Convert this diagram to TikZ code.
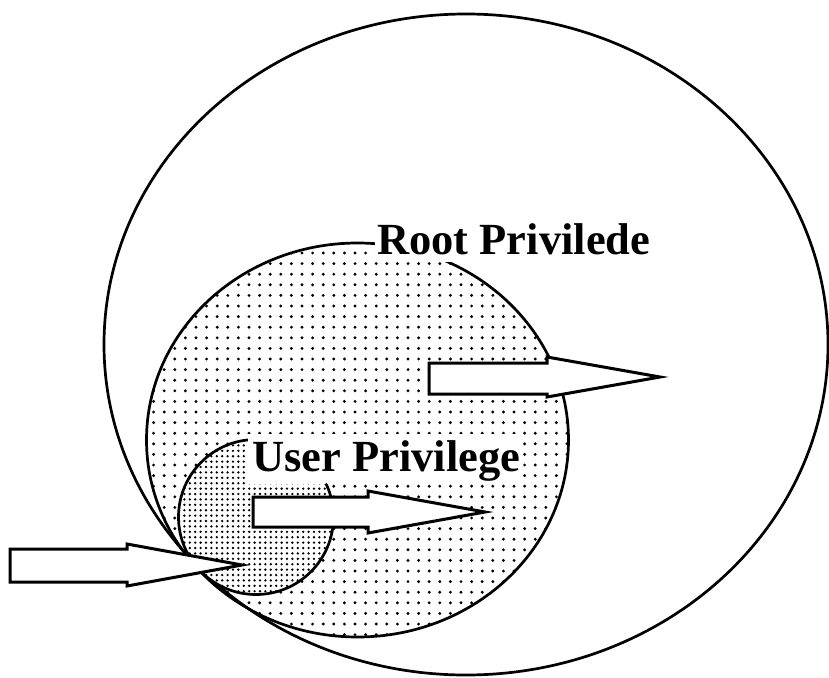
\documentclass[tikz,border=0pt]{standalone}
\usepackage{fontspec}
\setmainfont{Liberation Serif}
\begin{document}
\begin{tikzpicture}[x=1pt,y=-1pt,
  outline/.style={line width=2.7pt},
  blockarrow/.style={draw, fill=white, line width=3pt, line join=miter},
  labelbox/.style={fill=white, draw=none},
  labeltext/.style={font=\fontsize{44.5}{50}\selectfont\bfseries, anchor=base west, inner sep=0pt}]
\useasboundingbox (0,0) rectangle (829,677);
% outer circle
\draw[outline] (466,344.5) ellipse [x radius=362pt, y radius=330.5pt];
% root privilege region (sparse dots)
\begin{scope}
  \clip (357.5,440) ellipse [x radius=211pt, y radius=197pt];
  \foreach \i in {-15,...,25}
    \foreach \j in {-1,...,37}
      \fill (302+10.6*\i, 253+10.6*\j) circle[radius=1.6pt];
\end{scope}
% user privilege region (dense dots)
\fill[white] (256,517) circle[radius=77.5pt];
\begin{scope}
  \clip (256,517) circle[radius=77.5pt];
  \foreach \i in {0,...,29}
    \foreach \j in {0,...,29}
      \fill (179+5.4*\i, 440+5.4*\j) circle[radius=1.3pt];
\end{scope}
\draw[outline] (357.5,440) ellipse [x radius=211pt, y radius=197pt];
\draw[outline] (256,517) circle[radius=77.5pt];
% right arrow
\draw[blockarrow] (429,363) -- (547,363) -- (547,357) -- (660,377) -- (547,397) -- (547,394) -- (429,394) -- cycle;
% labels
\fill[labelbox] (375,219) rectangle (668,261.5);
\node[labeltext] (rootlabel) at (377,254) {Root Privilede};
\fill[labelbox] (248,434) rectangle (523,484);
\node[labeltext] (userlabel) at (252,471) {User Privilege};
\draw[line width=1pt] (326,483) -- (330,492);
% middle arrow
\draw[blockarrow] (253,497) -- (368,497) -- (368,491) -- (485,512) -- (368,533) -- (368,527) -- (253,527) -- cycle;
% left arrow
\draw[blockarrow] (10,549) -- (127,549) -- (127,544) -- (242,565) -- (127,586) -- (127,582) -- (10,582) -- cycle;
\end{tikzpicture}
\end{document}
